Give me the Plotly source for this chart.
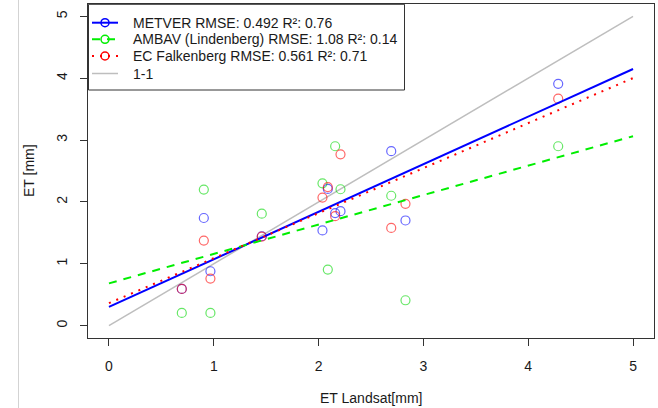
import numpy as np
import plotly.graph_objects as go

# Landsat-derived ET and modelled / measured ET for the same days [mm]
landsat = [0.695, 0.905, 0.968, 1.458, 2.037, 2.088, 2.158, 2.209, 2.693, 2.829, 4.286]
metver = [0.594, 1.74, 0.879, 1.445, 1.54, 2.21, 1.82, 1.85, 2.82, 1.70, 3.91]
ambav = [0.205, 2.20, 0.205, 1.81, 2.30, 0.906, 2.90, 2.205, 2.10, 0.41, 2.90]
ec_falk = [0.594, 1.375, 0.76, 1.44, 2.07, 2.24, 1.77, 2.77, 1.58, 1.97, 3.67]

series_names = [
    "METVER RMSE: 0.492 R²: 0.76",
    "AMBAV (Lindenberg) RMSE: 1.08 R²: 0.14",
    "EC Falkenberg RMSE: 0.561 R²: 0.71",
]
one_to_one_name = "1-1"
x_ticks = [0, 1, 2, 3, 4, 5]
fit_span = [0, 5]

line_colors = ["#0000ff", "#00ee00", "#ff0000"]
point_colors = ["rgba(0,0,255,0.6)", "rgba(0,215,0,0.6)", "rgba(255,0,0,0.6)"]
dashes = ["solid", "8px,7px", "2px,6px"]
GRAY = "#bebebe"
FONT = "Liberation Sans, Arial, sans-serif"
TXT = "#1a1a1a"

# plot-area geometry in pixels
W, H = 658, 408
ML, MR, MT, MB = 88, 4, 4, 70
PW, PH = W - ML - MR, H - MT - MB


def px(xpix):
    return (xpix - ML) / PW


def py(ypix):
    return (H - MB - ypix) / PH


fig = go.Figure()

# 1:1 reference line
fig.add_trace(go.Scatter(x=fit_span, y=fit_span, mode="lines",
                         line=dict(color=GRAY, width=1.5),
                         showlegend=False, hoverinfo="skip"))

all_series = [metver, ambav, ec_falk]

# observations
for vals, pc in zip(all_series, point_colors):
    fig.add_trace(go.Scatter(x=landsat, y=vals, mode="markers",
                             marker=dict(symbol="circle-open", size=9,
                                         color=pc, line=dict(width=1.2, color=pc)),
                             showlegend=False))

# linear regressions y ~ x
for vals, lc, dash in zip(all_series, line_colors, dashes):
    slope, intercept = np.polyfit(landsat, vals, 1)
    xs = np.array(fit_span, dtype=float)
    fig.add_trace(go.Scatter(x=xs, y=intercept + slope * xs, mode="lines",
                             line=dict(color=lc, width=2, dash=dash),
                             showlegend=False, hoverinfo="skip"))

axis_common = dict(
    range=[-0.2, 5.2], tickvals=x_ticks, ticks="outside", ticklen=7,
    tickcolor="#333333", tickwidth=1, showline=True, mirror=True,
    linecolor="#333333", linewidth=1, showgrid=False, zeroline=False,
    tickfont=dict(family=FONT, size=14, color=TXT),
)

# legend box drawn in the top-left corner of the plot area
shapes = [
    dict(type="rect", xref="paper", yref="paper",
         x0=px(88.5), x1=px(404.5), y0=py(90), y1=py(4.3),
         line=dict(color="#333333", width=1), fillcolor="white", layer="above"),
    dict(type="line", xref="paper", yref="paper",
         x0=px(18.5), x1=px(18.5), y0=py(H + 2), y1=py(-2),
         line=dict(color="#d3d3d3", width=1)),
]
annotations = []
row_y = [22.7, 39.3, 56.0, 73.5]
entry_colors = line_colors + [GRAY]
entry_dash = dashes + ["solid"]
entry_names = series_names + [one_to_one_name]
for i, (yy, col, dsh, name) in enumerate(zip(row_y, entry_colors, entry_dash, entry_names)):
    shapes.append(dict(type="line", xref="paper", yref="paper",
                       x0=px(92), x1=px(118), y0=py(yy), y1=py(yy),
                       line=dict(color=col, width=2 if i < 3 else 1.5, dash=dsh),
                       layer="above"))
    if i < 3:
        shapes.append(dict(type="circle", xref="paper", yref="paper",
                           xsizemode="pixel", ysizemode="pixel",
                           xanchor=px(105), yanchor=py(yy),
                           x0=-4, x1=4, y0=-4, y1=4,
                           line=dict(color=col, width=1.5), fillcolor="rgba(0,0,0,0)",
                           layer="above"))
    annotations.append(dict(text=name, xref="paper", yref="paper",
                            x=px(131), y=py(yy), xanchor="left", yanchor="middle",
                            showarrow=False,
                            font=dict(family=FONT, size=14, color=TXT)))

annotations += [
    dict(text="ET Landsat[mm]", xref="paper", yref="paper", x=0.5, y=0,
         xanchor="center", yanchor="middle", yshift=-60, showarrow=False,
         font=dict(family=FONT, size=14, color=TXT)),
    dict(text="ET [mm]", xref="paper", yref="paper", x=0, y=0.5,
         xanchor="center", yanchor="middle", xshift=-59, textangle=-90,
         showarrow=False, font=dict(family=FONT, size=14, color=TXT)),
]

fig.update_layout(
    width=W, height=H,
    margin=dict(l=ML, r=MR, t=MT, b=MB),
    paper_bgcolor="white", plot_bgcolor="white",
    font=dict(family=FONT, size=14, color=TXT),
    xaxis=dict(axis_common, ticklabelstandoff=8),
    yaxis=dict(axis_common, tickangle=-90, ticklabelstandoff=7),
    showlegend=False,
    shapes=shapes,
    annotations=annotations,
)

fig.write_html("out.html")
